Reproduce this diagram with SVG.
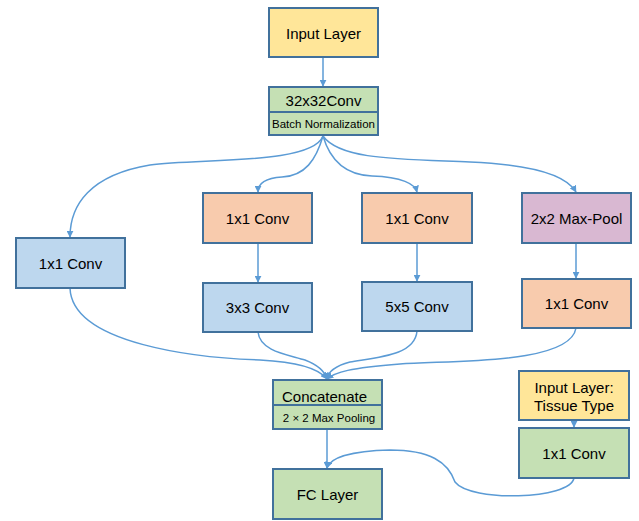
<svg xmlns="http://www.w3.org/2000/svg" width="639" height="521" viewBox="0 0 639 521">
<style>
.b{stroke:#41719C;stroke-width:2}
.y{fill:#FFE699}.g{fill:#C5E0B4}.bl{fill:#BDD7EE}.o{fill:#F8CBAD}.p{fill:#D9B8D2}
text{font-family:"Liberation Sans",Arial,sans-serif;fill:#000;text-anchor:middle;dominant-baseline:central}
.t{font-size:15px}.s{font-size:11.5px}
.c{fill:none;stroke:#5B9BD5;stroke-width:1.5;marker-end:url(#a)}
</style>
<defs><marker id="a" viewBox="0 0 10 10" refX="9" refY="5" markerWidth="7" markerHeight="7" orient="auto" markerUnits="userSpaceOnUse"><path d="M0,0L10,5L0,10z" fill="#5B9BD5"/></marker></defs>
<g id="connectors">
<path class="c" d="M323,57V86"/>
<path class="c" d="M323,136C312,165 200,158 150,165C90,175 70,205 70,237"/>
<path class="c" d="M323,136C316,160 305,176 282,177C265,178 258,184 258,192"/>
<path class="c" d="M323,136C330,160 345,175 372,176C402,177 415,184 417,192"/>
<path class="c" d="M323,136C340,160 400,159 470,162C540,165 568,178 576,192"/>
<path class="c" d="M258,243V282"/>
<path class="c" d="M417,243V281"/>
<path class="c" d="M576,243V278"/>
<path class="c" d="M574,420V427"/>
<path class="c" d="M70,288C72,345 200,358 260,360C300,362 320,370 327,379"/>
<path class="c" d="M258,332C260,352 290,355 305,360C318,365 325,372 327,379"/>
<path class="c" d="M417,331C415,355 380,357 350,362C335,366 328,372 327,379"/>
<path class="c" d="M576,328C570,365 450,360 400,364C350,368 335,372 327,379"/>
<path class="c" d="M327,429V468"/>
<path class="c" d="M574,478C570,500 470,502 455,482C448,462 430,450 390,450C350,451 330,458 327,468"/>
</g>
<g id="input"><rect class="b y" x="269" y="8" width="109" height="49"/><text class="t" x="323.5" y="33">Input Layer</text></g>
<g id="conv32"><rect class="b g" x="269" y="87" width="109" height="48"/><line class="b" x1="269" y1="112" x2="378" y2="112"/><text class="t" x="323.5" y="100">32x32Conv</text><text class="s" x="323.5" y="124">Batch Normalization</text></g>
<g id="left1x1"><rect class="b bl" x="16" y="238" width="109" height="50"/><text class="t" x="70.5" y="263">1x1 Conv</text></g>
<g id="c2a"><rect class="b o" x="203" y="193" width="109" height="50"/><text class="t" x="257.5" y="218">1x1 Conv</text></g>
<g id="c2b"><rect class="b bl" x="203" y="283" width="109" height="49"/><text class="t" x="257.5" y="307.5">3x3 Conv</text></g>
<g id="c3a"><rect class="b o" x="362" y="193" width="110" height="50"/><text class="t" x="417" y="218">1x1 Conv</text></g>
<g id="c3b"><rect class="b bl" x="362" y="282" width="110" height="49"/><text class="t" x="417" y="306.5">5x5 Conv</text></g>
<g id="c4a"><rect class="b p" x="522" y="193" width="109" height="50"/><text class="t" x="576.5" y="218">2x2 Max-Pool</text></g>
<g id="c4b"><rect class="b o" x="522" y="279" width="109" height="49"/><text class="t" x="576.5" y="303.5">1x1 Conv</text></g>
<g id="concat"><rect class="b g" x="273" y="380" width="109" height="49"/><line class="b" x1="273" y1="405" x2="382" y2="405"/><text class="t" x="324.5" y="396">Concatenate</text><text class="s" x="329" y="418">2 × 2 Max Pooling</text></g>
<g id="fc"><rect class="b g" x="273" y="469" width="109" height="50"/><text class="t" x="327.5" y="494">FC Layer</text></g>
<g id="tissue"><rect class="b y" x="519" y="371" width="110" height="49"/><text class="t" x="574" y="387">Input Layer:</text><text class="t" x="574" y="405">Tissue Type</text></g>
<g id="tconv"><rect class="b g" x="519" y="428" width="110" height="50"/><text class="t" x="574" y="453">1x1 Conv</text></g>
</svg>
